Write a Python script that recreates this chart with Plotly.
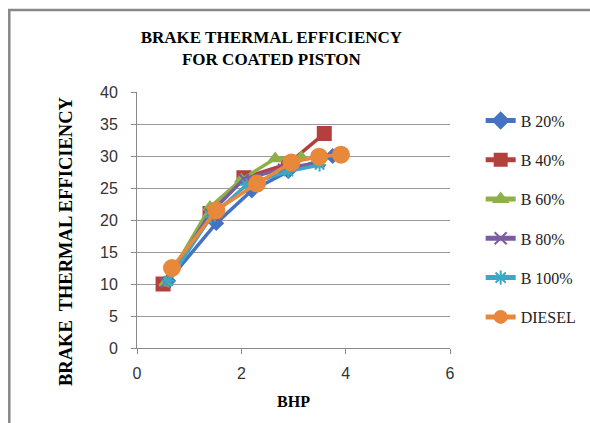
import plotly.graph_objects as go

# Brake thermal efficiency (%) vs brake horse power for each fuel blend
bhp_b20 = [0.6, 1.52, 2.2, 2.9, 3.75]
bte_b20 = [10.5, 19.5, 24.6, 27.6, 30.0]

bhp_b40 = [0.5, 1.4, 2.05, 2.9, 3.59]
bte_b40 = [10.0, 21.0, 26.6, 28.8, 33.5]

bhp_b60 = [0.55, 1.4, 2.0, 2.65, 3.15]
bte_b60 = [10.2, 22.0, 26.3, 29.6, 29.8]

bhp_b80 = [0.55, 1.4, 2.05, 2.8, 3.5]
bte_b80 = [10.2, 21.0, 26.4, 28.0, 29.0]

bhp_b100 = [0.6, 1.42, 2.1, 2.9, 3.5]
bte_b100 = [10.5, 20.5, 25.5, 27.6, 28.6]

bhp_diesel = [0.67, 1.52, 2.3, 2.96, 3.49, 3.91]
bte_diesel = [12.5, 21.5, 25.7, 29.0, 29.9, 30.2]

series = [
    ("B 20%", bhp_b20, bte_b20, "#4472C4", "diamond", 10),
    ("B 40%", bhp_b40, bte_b40, "#B3403D", "square", 13),
    ("B 60%", bhp_b60, bte_b60, "#8DB04A", "triangle-up", 11),
    ("B 80%", bhp_b80, bte_b80, "#7A5CA0", "x-thin", 10),
    ("B 100%", bhp_b100, bte_b100, "#3EA7C4", "asterisk", 11),
    ("DIESEL", bhp_diesel, bte_diesel, "#E8883A", "circle", 16),
]

fig = go.Figure()
for i, (name, xs, ys, col, sym, sz) in enumerate(series):
    fig.add_trace(go.Scatter(
        x=xs, y=ys, name=name, mode="lines+markers",
        legendgroup=f"g{i}",
        line=dict(color=col, width=3.5),
        marker=dict(symbol=sym, size=sz, color=col,
                    line=dict(color=col, width=2)),
    ))

serif = "Liberation Serif"
sans = "Liberation Sans"

fig.update_layout(
    width=590, height=423,
    margin=dict(l=137, r=140, t=92, b=75, autoexpand=False),
    paper_bgcolor="white", plot_bgcolor="white",
    showlegend=True,
    title=dict(
        text="BRAKE THERMAL EFFICIENCY<br>FOR COATED PISTON",
        xref="container", x=0.46, xanchor="center",
        yref="container", y=0.898, yanchor="middle",
        font=dict(family=serif, size=17, color="black", weight="bold"),
    ),
    legend=dict(
        x=1.098, xanchor="left", y=0.955, yanchor="top",
        font=dict(family=serif, size=16, color="#222"),
        tracegroupgap=15.5, itemwidth=30, itemsizing="constant",
        bgcolor="rgba(0,0,0,0)",
    ),
    xaxis=dict(
        range=[0, 6], tickvals=[0, 2, 4, 6], showgrid=False,
        showline=True, linecolor="#888", linewidth=1,
        ticks="outside", ticklen=5, tickcolor="#888",
        ticklabelstandoff=6,
        tickfont=dict(family=sans, size=16, color="#333"),
        title=dict(text="BHP", standoff=14,
                   font=dict(family=serif, size=16, color="black", weight="bold")),
        zeroline=False,
    ),
    yaxis=dict(
        range=[0, 40], dtick=5, showgrid=True, gridcolor="#9a9a9a", gridwidth=1,
        showline=True, linecolor="#888", linewidth=1,
        ticks="outside", ticklen=5, tickcolor="#888",
        ticklabelstandoff=10,
        tickfont=dict(family=sans, size=16, color="#333"),
        zeroline=False,
    ),
    annotations=[dict(
        text="BRAKE  THERMAL EFFICIENCY", textangle=-90,
        xref="paper", yref="paper",
        x=(66 - 137) / 313.3, y=(348 - 241) / 256,
        xanchor="center", yanchor="middle", showarrow=False,
        font=dict(family=serif, size=18.5, color="black", weight="bold"),
    )],
    shapes=[dict(
        type="rect", xref="paper", yref="paper",
        x0=-0.408, x1=2.0, y0=-0.4, y1=1.32,
        line=dict(color="#888", width=2.5), fillcolor="rgba(0,0,0,0)",
        layer="below",
    )],
)

fig.write_html("out.html")
